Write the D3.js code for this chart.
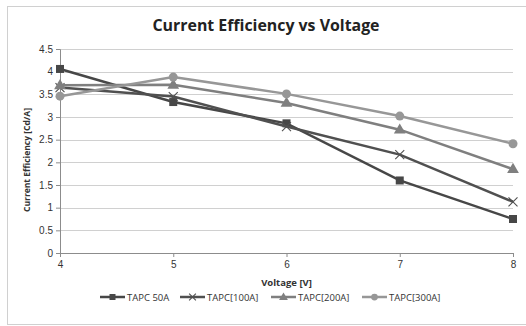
<!DOCTYPE html>
<html>
<head>
<meta charset="utf-8">
<script src="https://cdn.jsdelivr.net/npm/d3@7"></script>
<style>
  body { margin: 0; background: #fff; }
  svg { font-family: "Open Sans", "Liberation Sans", sans-serif; }
</style>
</head>
<body>
<svg id="chart" width="526" height="326"></svg>
<script>
var voltages = [4, 5, 6, 7, 8]
var seriesNames = ['TAPC 50A', 'TAPC[100A]', 'TAPC[200A]', 'TAPC[300A]']
var tapc50 = [4.06, 3.33, 2.86, 1.6, 0.75]
var tapc100 = [3.65, 3.45, 2.79, 2.17, 1.13]
var tapc200 = [3.7, 3.71, 3.31, 2.72, 1.85]
var tapc300 = [3.46, 3.88, 3.51, 3.02, 2.41]
var yTicks = [0, 0.5, 1, 1.5, 2, 2.5, 3, 3.5, 4, 4.5]

var colors = ['#474747', '#505050', '#7f7f7f', '#979797']
var markers = ['square', 'cross', 'triangle', 'circle']
var allSeries = [tapc50, tapc100, tapc200, tapc300]

var margin = { top: 49, right: 13, bottom: 73, left: 60 }
var width = 526 - margin.left - margin.right
var height = 326 - margin.top - margin.bottom

var svg = d3.select('#chart')

// outer chart border
svg.append('rect')
  .attr('x', 7.5).attr('y', 6.5)
  .attr('width', 530).attr('height', 318)
  .attr('fill', 'none').attr('stroke', '#d0d0d0')

var x = d3.scaleLinear().domain([4, 8]).range([0, width])
var y = d3.scaleLinear().domain([0, 4.5]).range([height, 0])

var g = svg.append('g').attr('transform', 'translate(' + margin.left + ',' + margin.top + ')')

// gridlines
g.selectAll('.grid').data(yTicks.slice(1)).enter()
  .append('line')
  .attr('x1', 0).attr('x2', width)
  .attr('y1', function(d) { return Math.round(y(d)) + 0.5 })
  .attr('y2', function(d) { return Math.round(y(d)) + 0.5 })
  .attr('stroke', '#d0d0d0').attr('stroke-width', 1)

var yAxis = d3.axisLeft(y).tickValues(yTicks).tickSize(4).tickFormat(d3.format('~g'))
var xAxis = d3.axisBottom(x).tickValues(voltages).tickSize(4).tickFormat(d3.format('d'))

var yg = g.append('g').call(yAxis)
var xg = g.append('g').attr('transform', 'translate(0,' + height + ')').call(xAxis)

;[yg, xg].forEach(function(ax) {
  ax.select('.domain').attr('stroke', '#8c8c8c')
  ax.selectAll('.tick line').attr('stroke', '#8c8c8c')
  ax.selectAll('.tick text').attr('fill', '#333').attr('font-size', 10)
})
yg.selectAll('.tick text').attr('x', -7)
xg.selectAll('.tick text').attr('y', 8)

var line = d3.line()
  .x(function(d, i) { return x(voltages[i]) })
  .y(function(d) { return y(d) })

function drawMarker(sel, type, color, px, py, k) {
  k = k || 1
  if (type === 'square') {
    sel.append('rect').attr('x', px - 4 * k).attr('y', py - 4 * k)
      .attr('width', 8 * k).attr('height', 8 * k).attr('fill', color)
  } else if (type === 'cross') {
    var r = 4.5 * k
    sel.append('path')
      .attr('d', 'M' + (px - r) + ',' + (py - r) + 'L' + (px + r) + ',' + (py + r) +
        'M' + (px - r) + ',' + (py + r) + 'L' + (px + r) + ',' + (py - r))
      .attr('stroke', color).attr('stroke-width', 1.1).attr('fill', 'none')
  } else if (type === 'triangle') {
    sel.append('path')
      .attr('d', d3.symbol().type(d3.symbolTriangle).size(60 * k * k)())
      .attr('transform', 'translate(' + px + ',' + (py + 0.5) + ')')
      .attr('fill', color)
  } else {
    sel.append('circle').attr('cx', px).attr('cy', py).attr('r', 4.5 * k).attr('fill', color)
  }
}

allSeries.forEach(function(vals, s) {
  g.append('path')
    .datum(vals)
    .attr('d', line)
    .attr('fill', 'none')
    .attr('stroke', colors[s])
    .attr('stroke-width', 2.5)
  var mg = g.append('g')
  vals.forEach(function(v, i) {
    drawMarker(mg, markers[s], colors[s], x(voltages[i]), y(v))
  })
})

// title
svg.append('text')
  .attr('x', 266).attr('y', 31)
  .attr('text-anchor', 'middle')
  .attr('font-size', 16).attr('font-weight', 'bold').attr('fill', '#222')
  .attr('textLength', 227).attr('lengthAdjust', 'spacingAndGlyphs')
  .text('Current Efficiency vs Voltage')

svg.append('text')
  .attr('x', margin.left + width / 2).attr('y', 286)
  .attr('text-anchor', 'middle')
  .attr('font-size', 9.5).attr('font-weight', 'bold').attr('fill', '#333')
  .text('Voltage [V]')

svg.append('text')
  .attr('transform', 'translate(30,160) rotate(-90)')
  .attr('text-anchor', 'middle')
  .attr('font-size', 8.5).attr('font-weight', 'bold').attr('fill', '#333')
  .text('Current Efficiency  [Cd/A]')

// legend
var legendX = [100, 180, 271, 362]
var legendY = 297
seriesNames.forEach(function(name, s) {
  var lg = svg.append('g')
  lg.append('line')
    .attr('x1', legendX[s]).attr('x2', legendX[s] + 25)
    .attr('y1', legendY).attr('y2', legendY)
    .attr('stroke', colors[s]).attr('stroke-width', 2.5)
  drawMarker(lg, markers[s], colors[s], legendX[s] + 12.5, legendY, 0.75)
  lg.append('text')
    .attr('x', legendX[s] + 27).attr('y', legendY + 3.5)
    .attr('font-size', 9.5).attr('fill', '#333')
    .text(name)
})
</script>
</body>
</html>
